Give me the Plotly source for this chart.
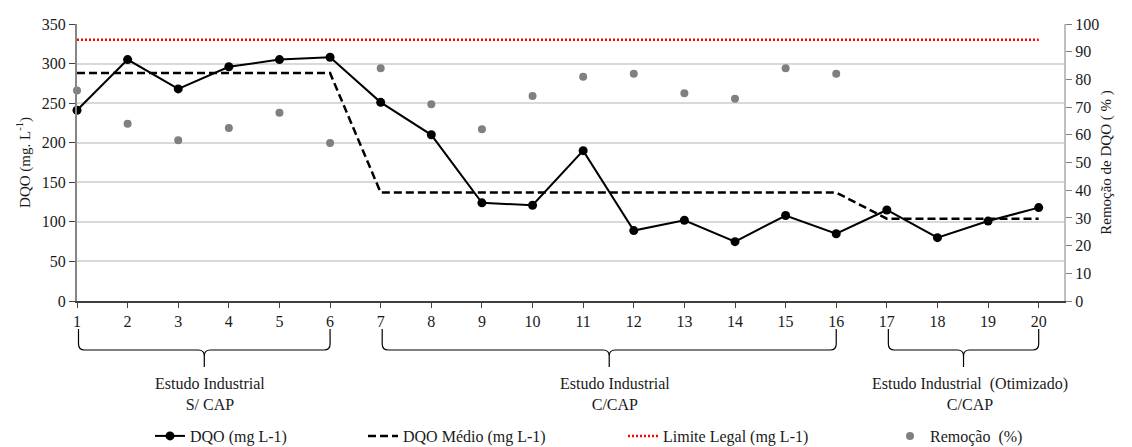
import plotly.graph_objects as go

# Sample index along the study
amostras = list(range(1, 21))

# COD (DQO) measured per sample, mg/L
dqo = [241, 305, 268, 296, 305, 308, 251, 210, 124, 121,
       190, 89, 102, 75, 108, 85, 115, 80, 101, 118]

# Mean COD of each study phase, mg/L
dqo_medio = [288, 288, 288, 288, 288, 288,
             137, 137, 137, 137, 137, 137, 137, 137, 137, 137,
             104, 104, 104, 104]

# Legal discharge limit, mg/L
limite_legal = [330] * 20

# COD removal efficiency, % (samples 1-16)
amostras_remocao = list(range(1, 17))
remocao = [76, 64, 58, 62.5, 68, 57, 84, 71, 62, 74,
           81, 82, 75, 73, 84, 82]

# Study phases: (first sample, last sample, label)
fases = [
    (1, 6, "Estudo Industrial<br>S/ CAP"),
    (7, 16, "Estudo Industrial<br>C/CAP"),
    (17, 20, "Estudo Industrial\u00a0\u00a0(Otimizado)<br>C/CAP"),
]

FONT = "Liberation Serif"
TXT = "#1a1a1a"
FS = 16
W, H = 1132, 447
ML, MR, MT, MB = 77, 68, 24, 146
X_RANGE = [1, 20.5]
PLOT_W = W - ML - MR
PLOT_H = H - MT - MB


def px_to_paper_x(px):
    return (px - ML) / PLOT_W


def px_to_paper_y(py):
    return (H - MB - py) / PLOT_H


def cat_to_paper_x(c):
    return (c - X_RANGE[0]) / (X_RANGE[1] - X_RANGE[0])


fig = go.Figure()

fig.add_trace(go.Scatter(
    x=amostras, y=limite_legal, mode="lines", name="Limite Legal (mg L-1)",
    line=dict(color="#ff0000", width=2.5, dash="2px,2px"),
    legend="legend4", cliponaxis=False,
))
fig.add_trace(go.Scatter(
    x=amostras, y=dqo_medio, mode="lines", name="DQO Médio (mg L-1)",
    line=dict(color="#000000", width=2.5, dash="8px,4px"),
    legend="legend3", cliponaxis=False,
))
fig.add_trace(go.Scatter(
    x=amostras, y=dqo, mode="lines+markers", name="DQO (mg L-1)",
    line=dict(color="#000000", width=2),
    marker=dict(color="#000000", size=9),
    legend="legend2", cliponaxis=False,
))
fig.add_trace(go.Scatter(
    x=amostras_remocao, y=remocao, mode="markers", name="Remoção\u00a0\u00a0(%)",
    marker=dict(color="#808080", size=8),
    yaxis="y2", legend="legend5", cliponaxis=False,
))

# Braces grouping the samples of each phase, with their captions
y_top = px_to_paper_y(329)
y_h = px_to_paper_y(350)
y_stem = px_to_paper_y(367)
r = 6 / PLOT_W
rv = 6 / PLOT_H
for a, b, label in fases:
    x0 = cat_to_paper_x(a) + 1.5 / PLOT_W
    x1 = cat_to_paper_x(b)
    xm = (x0 + x1) / 2
    path = (
        f"M {x0},{y_top} L {x0},{y_h + rv} Q {x0},{y_h} {x0 + r},{y_h} "
        f"L {xm - r},{y_h} Q {xm},{y_h} {xm},{y_h - rv} L {xm},{y_stem} "
        f"M {x1},{y_top} L {x1},{y_h + rv} Q {x1},{y_h} {x1 - r},{y_h} "
        f"L {xm + r},{y_h} Q {xm},{y_h} {xm},{y_h - rv}"
    )
    fig.add_shape(type="path", path=path, xref="paper", yref="paper",
                  line=dict(color="#000000", width=1.2))
    fig.add_annotation(
        x=xm + 6 / PLOT_W, y=px_to_paper_y(394), xref="paper", yref="paper",
        text=label, showarrow=False, xanchor="center", yanchor="middle",
        align="center", font=dict(family=FONT, size=FS, color=TXT),
    )

legend_y = px_to_paper_y(436)
legend_common = dict(
    orientation="h", yanchor="middle", y=legend_y, xanchor="left",
    bgcolor="rgba(0,0,0,0)", font=dict(family=FONT, size=FS, color=TXT),
    itemwidth=30,
)

fig.update_layout(
    width=W, height=H,
    margin=dict(l=ML, r=MR, t=MT, b=MB, autoexpand=False),
    paper_bgcolor="white", plot_bgcolor="white",
    font=dict(family=FONT, size=FS, color=TXT),
    showlegend=True,
    xaxis=dict(
        range=X_RANGE, tickmode="array", tickvals=amostras,
        showgrid=False, zeroline=False,
        showline=True, linecolor="#404040", linewidth=1.5,
        ticks="outside", ticklen=5, tickcolor="#404040", tickwidth=1.2,
        tickfont=dict(family=FONT, size=FS, color=TXT),
    ),
    yaxis=dict(
        range=[0, 350], dtick=50, tick0=0,
        showgrid=True, gridcolor="#d9d9d9", gridwidth=1.5,
        zeroline=False,
        showline=True, linecolor="#868686", linewidth=2,
        ticks="outside", ticklen=6, tickcolor="#404040", tickwidth=1.2,
        tickfont=dict(family=FONT, size=FS, color=TXT),
        title=dict(text="DQO (mg. L<sup>-1</sup>)", standoff=8,
                   font=dict(family=FONT, size=15, color=TXT)),
    ),
    yaxis2=dict(
        range=[0, 100], dtick=10, tick0=0, overlaying="y", side="right",
        showgrid=False, zeroline=False,
        showline=True, linecolor="#bfbfbf", linewidth=2,
        ticks="outside", ticklen=6, tickcolor="#808080", tickwidth=1.2,
        tickfont=dict(family=FONT, size=FS, color=TXT),
        title=dict(text="Remoção de DQO ( % )", standoff=2,
                   font=dict(family=FONT, size=15, color=TXT)),
    ),
    legend=dict(visible=False),
    legend2=dict(x=px_to_paper_x(150), **legend_common),
    legend3=dict(x=px_to_paper_x(363), **legend_common),
    legend4=dict(x=px_to_paper_x(623), **legend_common),
    legend5=dict(x=px_to_paper_x(890), **legend_common),
)

fig.write_html("out.html")
